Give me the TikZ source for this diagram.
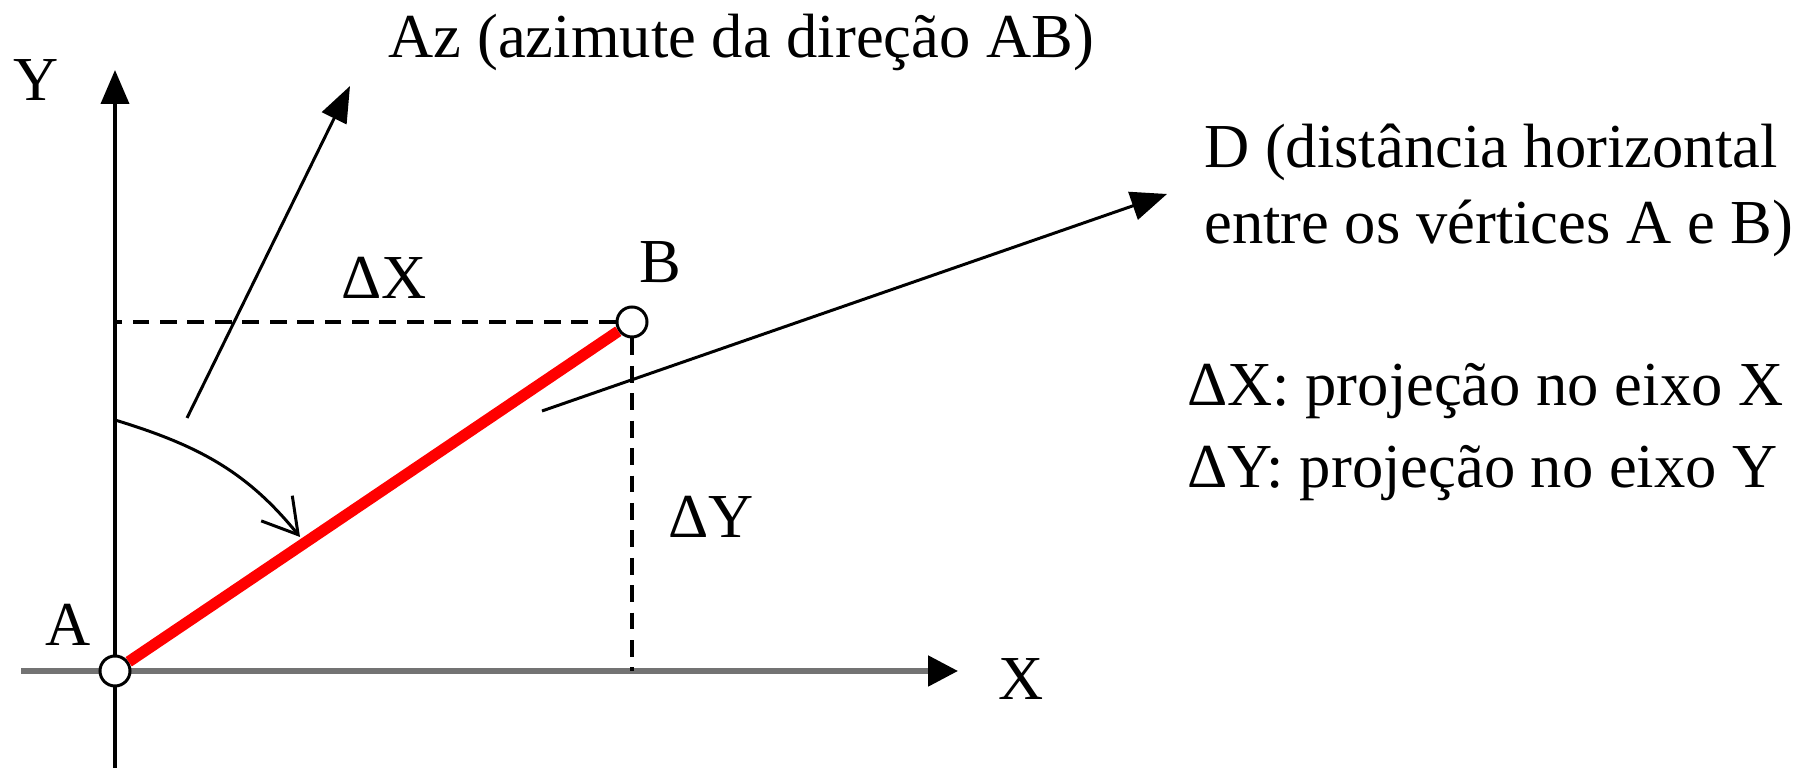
\documentclass[tikz,border=0pt]{standalone}
\usepackage{fontspec}
\setmainfont{Liberation Serif}
\usetikzlibrary{arrows.meta}

\begin{document}
\begin{tikzpicture}[line cap=butt,line join=miter,>={Triangle[length=0.34cm,width=0.28cm]},
  every node/.style={inner sep=1pt,font=\fontsize{17.8}{21.6}\selectfont},
  vertex/.style={circle,draw,fill=white,line width=0.85pt,minimum size=0.3cm,inner sep=0pt},
  proj/.style={line width=0.9pt,dash pattern=on 4.8pt off 3pt}]
  \useasboundingbox (0,0) rectangle (18.07,7.68);
  \coordinate (ybot) at (1.15,0);
  \coordinate (ytop) at (1.15,6.98);
  \coordinate (xleft) at (0.21,0.97);
  \coordinate (xtip) at (9.58,0.97);
  \draw[line width=1.1pt,->] (ybot) -- (ytop);
  \draw[line width=1.5pt,draw=black!55,-{Triangle[length=0.3cm,width=0.3cm,color=black]}] (xleft) -- (xtip);
  \node[vertex] (A) at (1.15,0.97) {};
  \node[vertex] (B) at (6.32,4.46) {};
  \draw[proj] (B.west) -- (B.west -| ybot);
  \draw[proj] (B.south) -- (B.south |- xleft);
  \draw[red,line width=3.2pt] (A) -- (B);
  \coordinate (azfrom) at (1.87,3.50);
  \coordinate (azto) at (3.50,6.82);
  \draw[line width=0.85pt,->,>={Triangle[length=0.36cm,width=0.27cm]}] (azfrom) -- (azto);
  \coordinate (dfrom) at (5.42,3.57);
  \coordinate (dto) at (11.67,5.74);
  \draw[line width=0.85pt,->,>={Triangle[length=0.36cm,width=0.29cm]}] (dfrom) -- (dto);
  \coordinate (arcfrom) at (1.15,3.48);
  \coordinate (arcto) at (3.00,2.31);
  \draw[line width=0.85pt,-{Straight Barb[length=0.34cm,width=0.4cm]}] (arcfrom) to[out=-17,in=129] (arcto);
  \node (ylab) at (0.36,6.88) {Y};
  \node (xlab) at (10.21,0.89) {X};
  \node (alab) at (0.68,1.43) {A};
  \node (blab) at (6.60,5.06) {B};
  \node (dxlab) at (3.84,4.90) {ΔX};
  \node (dylab) at (7.11,2.51) {ΔY};
  \node[anchor=base west] (aztext) at (3.845,7.10) {Az (azimute da direção AB)};
  \node[anchor=west,align=left] (dtext) at (12.00,5.78) {D (distância horizontal\\entre os vértices A e B)};
  \node[anchor=west,align=left,font=\fontsize{17.8}{23.5}\selectfont] (legend) at (11.83,3.36) {ΔX: projeção no eixo X\\ΔY: projeção no eixo Y};
\end{tikzpicture}
\end{document}
